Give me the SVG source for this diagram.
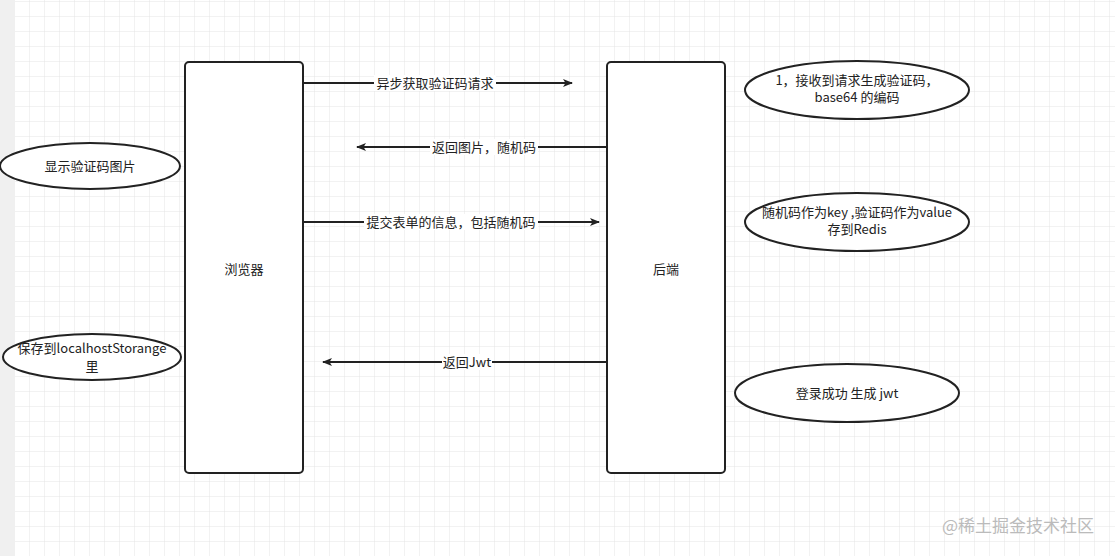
<svg xmlns="http://www.w3.org/2000/svg" width="1115" height="556" viewBox="0 0 1115 556">
<defs>
<pattern id="grid" x="0" y="2" width="15" height="15" patternUnits="userSpaceOnUse">
<path d="M15 0V15M0 15H15" fill="none" stroke="#e4e4e4" stroke-width="1"/>
</pattern>
<marker id="arr" viewBox="0 0 10 10" refX="9" refY="5" markerWidth="10" markerHeight="10" markerUnits="userSpaceOnUse" orient="auto">
<path d="M0 1L10 5L0 9L2.5 5Z" fill="#222"/>
</marker>
<style>
text{font-family:"Noto Sans CJK SC","Liberation Sans",sans-serif;font-size:13px;fill:#222;text-anchor:middle}
.box{fill:#fff;stroke:#222;stroke-width:2}
.ell{fill:#fff;stroke:#222;stroke-width:2}
.line{stroke:#222;stroke-width:2;fill:none;marker-end:url(#arr)}
.lbl{fill:#fff}
</style>
</defs>
<rect width="1115" height="556" fill="#fff"/>
<rect x="15" y="0" width="1100" height="556" fill="url(#grid)"/>
<rect x="0" y="0" width="15" height="556" fill="#f0f0f0"/>
<g id="browser"><rect class="box" x="185" y="62" width="118" height="411" rx="4"/><text x="244" y="274">浏览器</text></g>
<g id="backend"><rect class="box" x="607" y="62" width="118" height="411" rx="4"/><text x="666" y="274">后端</text></g>
<g id="n1"><ellipse class="ell" cx="857" cy="90" rx="112" ry="29"/><text x="857" y="85">1，接收到请求生成验证码，</text><text x="857" y="102">base64 的编码</text></g>
<g id="n2"><ellipse class="ell" cx="857" cy="222" rx="112" ry="29"/><text x="857" y="217">随机码作为key ,验证码作为value</text><text x="857" y="234">存到Redis</text></g>
<g id="n3"><ellipse class="ell" cx="847" cy="393" rx="112" ry="29"/><text x="847" y="398">登录成功 生成 jwt</text></g>
<g id="n4"><ellipse class="ell" cx="90" cy="166" rx="90" ry="23"/><text x="90" y="171">显示验证码图片</text></g>
<g id="n5"><ellipse class="ell" cx="92" cy="357" rx="89" ry="23"/><text x="92" y="353">保存到localhostStorange</text><text x="92" y="371">里</text></g>
<g id="connectors">
<path class="line" d="M303 83H572"/><rect class="lbl" x="374" y="75" width="122" height="16"/><text x="435" y="88">异步获取验证码请求</text>
<path class="line" d="M607 147H357"/><rect class="lbl" x="430" y="139" width="108" height="16"/><text x="484" y="152">返回图片，随机码</text>
<path class="line" d="M303 222H599"/><rect class="lbl" x="364" y="214" width="174" height="16"/><text x="451" y="227">提交表单的信息，包括随机码</text>
<path class="line" d="M607 362H323"/><rect class="lbl" x="442" y="354" width="50" height="16"/><text x="467" y="367">返回Jwt</text>
</g>
<text x="1018" y="532" style="font-size:17px;fill:#bbb">@稀土掘金技术社区</text>
</svg>
